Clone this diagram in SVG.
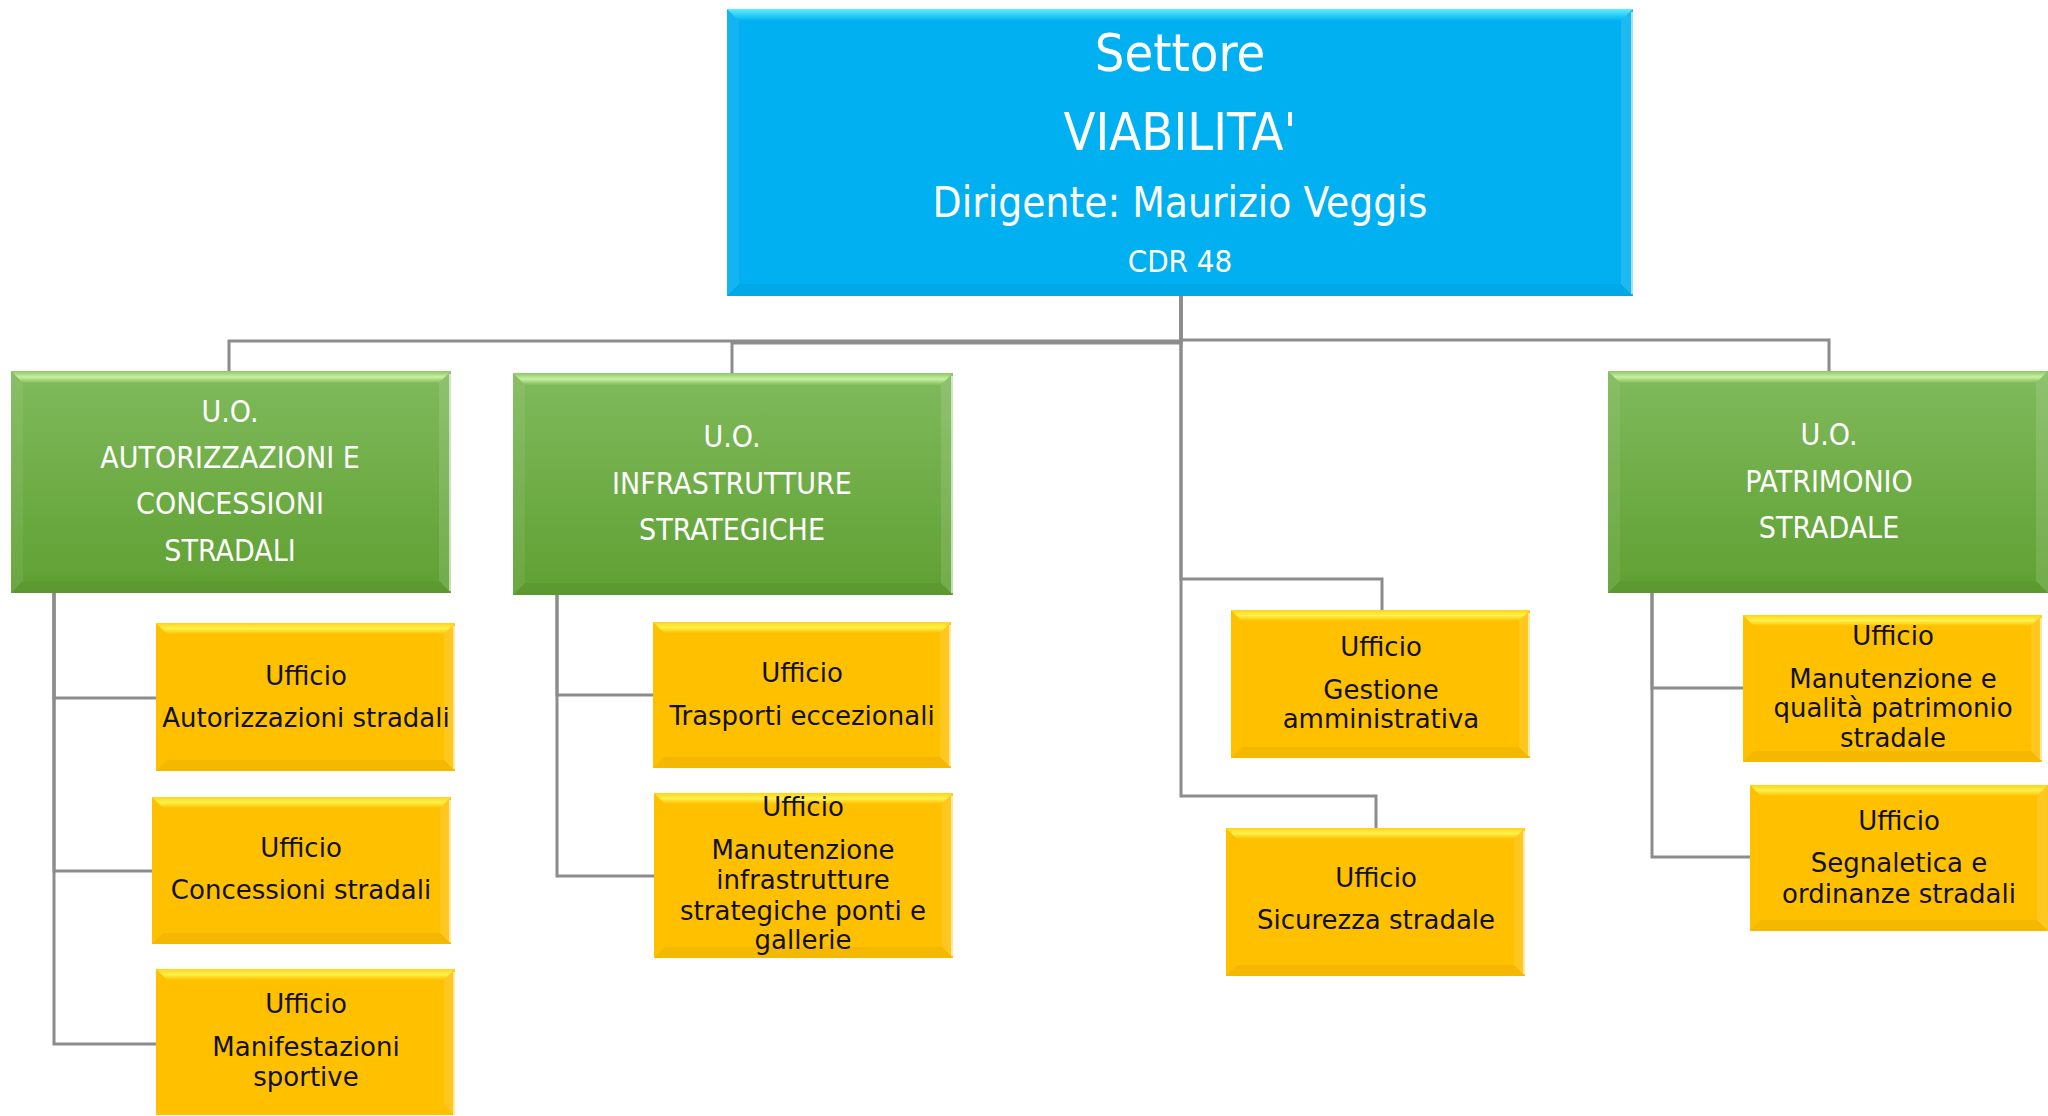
<svg xmlns="http://www.w3.org/2000/svg" width="2048" height="1116" viewBox="0 0 2048 1116">
<style>
.conn{fill:none;stroke:#8c8c8c;stroke-width:3}
.wt{font-family:"DejaVu Sans Condensed","DejaVu Sans",sans-serif;font-stretch:condensed;fill:#ffffff;text-anchor:middle}
.bt{font-family:"DejaVu Sans",sans-serif;fill:#111111;text-anchor:middle;font-size:26px}
.blue{fill:#00b0f0}
.green{fill:url(#gGreen)}
.yellow{fill:#ffc000}
.hiB{fill:url(#tB)}
.hiG{fill:url(#tG)}
.hiY{fill:url(#tY)}
.sideL{fill:#ffffff;opacity:0.07}
.sideR{fill:#ffffff;opacity:0.12}
.sideD{fill:#000000;opacity:0.04}
.edge{stroke:#ffffff;stroke-opacity:0.6;stroke-width:2}
</style>
<defs>
<linearGradient id="gGreen" x1="0" y1="0" x2="0" y2="1">
<stop offset="0" stop-color="#80ba5c"/>
<stop offset="1" stop-color="#5fa032"/>
</linearGradient>
<linearGradient id="tB" x1="0" y1="0" x2="0" y2="1">
<stop offset="0" stop-color="#5cf0ff"/>
<stop offset="1" stop-color="#00b0f0"/>
</linearGradient>
<linearGradient id="tG" x1="0" y1="0" x2="0" y2="1">
<stop offset="0" stop-color="#8cc766"/>
<stop offset="0.5" stop-color="#c8f0a0"/>
<stop offset="1" stop-color="#80ba5c"/>
</linearGradient>
<linearGradient id="tY" x1="0" y1="0" x2="0" y2="1">
<stop offset="0" stop-color="#ffd21a"/>
<stop offset="0.5" stop-color="#fff24a"/>
<stop offset="1" stop-color="#ffc000"/>
</linearGradient>
</defs>
<g id="connectors">
<path class="conn" d="M1181 296 V341 H229 V371"/>
<path class="conn" d="M1181 296 V343 H732 V373"/>
<path class="conn" d="M1181 296 V340 H1829 V371"/>
<path class="conn" d="M1181 296 V579 H1382 V610"/>
<path class="conn" d="M1181 296 V796 H1376 V828"/>
<path class="conn" d="M54 593 V698 H156"/>
<path class="conn" d="M54 593 V871 H152"/>
<path class="conn" d="M54 593 V1044 H156"/>
<path class="conn" d="M557 595 V695 H653"/>
<path class="conn" d="M557 595 V876 H654"/>
<path class="conn" d="M1652 593 V688 H1743"/>
<path class="conn" d="M1652 593 V857 H1750"/>
</g>
<g id="settore">
<rect class="blue" x="727" y="9" width="906" height="287"/>
<polygon class="hiB" points="727,9 1633,9 1621,21 739,21"/>
<polygon class="sideL" points="727,9 739,21 739,284 727,296"/>
<polygon class="sideR" points="1633,9 1621,21 1621,284 1633,296"/>
<polygon class="sideD" points="727,296 739,284 1621,284 1633,296"/>
<line class="edge" x1="1632" y1="12" x2="1632" y2="294"/>
<text class="wt" x="1180" y="71" font-size="52">Settore</text>
<text class="wt" x="1180" y="150" font-size="52">VIABILITA'</text>
<text class="wt" x="1180" y="217" font-size="42">Dirigente: Maurizio Veggis</text>
<text class="wt" x="1180" y="272" font-size="31">CDR 48</text>
</g>
<g id="uo-autorizzazioni">
<rect class="green" x="11" y="371" width="440" height="222"/>
<polygon class="hiG" points="11,371 451,371 439,383 23,383"/>
<polygon class="sideL" points="11,371 23,383 23,581 11,593"/>
<polygon class="sideR" points="451,371 439,383 439,581 451,593"/>
<polygon class="sideD" points="11,593 23,581 439,581 451,593"/>
<line class="edge" x1="450" y1="374" x2="450" y2="591"/>
<text class="wt" x="230" y="422" font-size="30">U.O.</text>
<text class="wt" x="230" y="468" font-size="30">AUTORIZZAZIONI E</text>
<text class="wt" x="230" y="514" font-size="30">CONCESSIONI</text>
<text class="wt" x="230" y="561" font-size="30">STRADALI</text>
</g>
<g id="uo-infrastrutture">
<rect class="green" x="513" y="373" width="440" height="222"/>
<polygon class="hiG" points="513,373 953,373 941,385 525,385"/>
<polygon class="sideL" points="513,373 525,385 525,583 513,595"/>
<polygon class="sideR" points="953,373 941,385 941,583 953,595"/>
<polygon class="sideD" points="513,595 525,583 941,583 953,595"/>
<line class="edge" x1="952" y1="376" x2="952" y2="593"/>
<text class="wt" x="732" y="447" font-size="30">U.O.</text>
<text class="wt" x="732" y="494" font-size="30">INFRASTRUTTURE</text>
<text class="wt" x="732" y="540" font-size="30">STRATEGICHE</text>
</g>
<g id="uo-patrimonio">
<rect class="green" x="1608" y="371" width="440" height="222"/>
<polygon class="hiG" points="1608,371 2048,371 2036,383 1620,383"/>
<polygon class="sideL" points="1608,371 1620,383 1620,581 1608,593"/>
<polygon class="sideR" points="2048,371 2036,383 2036,581 2048,593"/>
<polygon class="sideD" points="1608,593 1620,581 2036,581 2048,593"/>
<text class="wt" x="1829" y="445" font-size="30">U.O.</text>
<text class="wt" x="1829" y="492" font-size="30">PATRIMONIO</text>
<text class="wt" x="1829" y="538" font-size="30">STRADALE</text>
</g>
<g id="uff-autorizzazioni">
<rect class="yellow" x="156" y="623" width="299" height="148"/>
<polygon class="hiY" points="156,623 455,623 444,634 167,634"/>
<polygon class="sideR" points="455,623 444,634 444,760 455,771"/>
<polygon class="sideD" points="156,771 167,760 444,760 455,771"/>
<line class="edge" x1="454" y1="626" x2="454" y2="769"/>
<text class="bt" x="306" y="685">Ufficio</text>
<text class="bt" x="306" y="727">Autorizzazioni stradali</text>
</g>
<g id="uff-concessioni">
<rect class="yellow" x="152" y="797" width="299" height="147"/>
<polygon class="hiY" points="152,797 451,797 440,808 163,808"/>
<polygon class="sideR" points="451,797 440,808 440,933 451,944"/>
<polygon class="sideD" points="152,944 163,933 440,933 451,944"/>
<line class="edge" x1="450" y1="800" x2="450" y2="942"/>
<text class="bt" x="301" y="857">Ufficio</text>
<text class="bt" x="301" y="899">Concessioni stradali</text>
</g>
<g id="uff-manifestazioni">
<rect class="yellow" x="156" y="969" width="299" height="146"/>
<polygon class="hiY" points="156,969 455,969 444,980 167,980"/>
<polygon class="sideR" points="455,969 444,980 444,1104 455,1115"/>
<line class="edge" x1="454" y1="972" x2="454" y2="1115"/>
<text class="bt" x="306" y="1013">Ufficio</text>
<text class="bt" x="306" y="1056">Manifestazioni</text>
<text class="bt" x="306" y="1086">sportive</text>
</g>
<g id="uff-trasporti">
<rect class="yellow" x="653" y="622" width="298" height="146"/>
<polygon class="hiY" points="653,622 951,622 940,633 664,633"/>
<polygon class="sideR" points="951,622 940,633 940,757 951,768"/>
<polygon class="sideD" points="653,768 664,757 940,757 951,768"/>
<line class="edge" x1="950" y1="625" x2="950" y2="766"/>
<text class="bt" x="802" y="682">Ufficio</text>
<text class="bt" x="802" y="725">Trasporti eccezionali</text>
</g>
<g id="uff-manutenzione-infrastrutture">
<rect class="yellow" x="654" y="793" width="299" height="165"/>
<polygon class="hiY" points="654,793 953,793 942,804 665,804"/>
<polygon class="sideR" points="953,793 942,804 942,947 953,958"/>
<polygon class="sideD" points="654,958 665,947 942,947 953,958"/>
<line class="edge" x1="952" y1="796" x2="952" y2="956"/>
<text class="bt" x="803" y="816">Ufficio</text>
<text class="bt" x="803" y="859">Manutenzione</text>
<text class="bt" x="803" y="889">infrastrutture</text>
<text class="bt" x="803" y="920">strategiche ponti e</text>
<text class="bt" x="803" y="949">gallerie</text>
</g>
<g id="uff-gestione">
<rect class="yellow" x="1231" y="610" width="299" height="148"/>
<polygon class="hiY" points="1231,610 1530,610 1519,621 1242,621"/>
<polygon class="sideR" points="1530,610 1519,621 1519,747 1530,758"/>
<polygon class="sideD" points="1231,758 1242,747 1519,747 1530,758"/>
<line class="edge" x1="1529" y1="613" x2="1529" y2="756"/>
<text class="bt" x="1381" y="656">Ufficio</text>
<text class="bt" x="1381" y="699">Gestione</text>
<text class="bt" x="1381" y="728">amministrativa</text>
</g>
<g id="uff-sicurezza">
<rect class="yellow" x="1226" y="828" width="299" height="148"/>
<polygon class="hiY" points="1226,828 1525,828 1514,839 1237,839"/>
<polygon class="sideR" points="1525,828 1514,839 1514,965 1525,976"/>
<polygon class="sideD" points="1226,976 1237,965 1514,965 1525,976"/>
<line class="edge" x1="1524" y1="831" x2="1524" y2="974"/>
<text class="bt" x="1376" y="887">Ufficio</text>
<text class="bt" x="1376" y="929">Sicurezza stradale</text>
</g>
<g id="uff-manutenzione-patrimonio">
<rect class="yellow" x="1743" y="615" width="299" height="147"/>
<polygon class="hiY" points="1743,615 2042,615 2031,626 1754,626"/>
<polygon class="sideR" points="2042,615 2031,626 2031,751 2042,762"/>
<polygon class="sideD" points="1743,762 1754,751 2031,751 2042,762"/>
<line class="edge" x1="2041" y1="618" x2="2041" y2="760"/>
<text class="bt" x="1893" y="645">Ufficio</text>
<text class="bt" x="1893" y="688">Manutenzione e</text>
<text class="bt" x="1893" y="717">qualità patrimonio</text>
<text class="bt" x="1893" y="747">stradale</text>
</g>
<g id="uff-segnaletica">
<rect class="yellow" x="1750" y="785" width="298" height="146"/>
<polygon class="hiY" points="1750,785 2048,785 2037,796 1761,796"/>
<polygon class="sideR" points="2048,785 2037,796 2037,920 2048,931"/>
<polygon class="sideD" points="1750,931 1761,920 2037,920 2048,931"/>
<text class="bt" x="1899" y="830">Ufficio</text>
<text class="bt" x="1899" y="872">Segnaletica e</text>
<text class="bt" x="1899" y="903">ordinanze stradali</text>
</g>
</svg>
